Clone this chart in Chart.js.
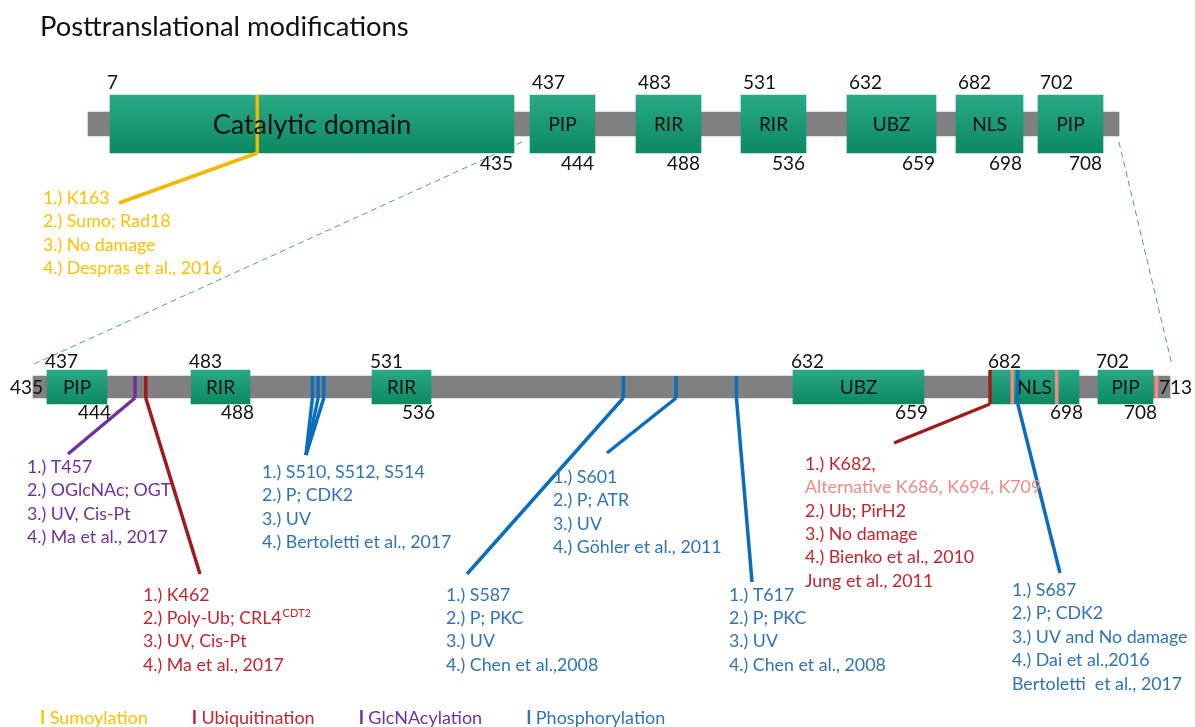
<!DOCTYPE html>
<html>
<head>
<meta charset="utf-8">
<script src="https://cdn.jsdelivr.net/npm/chart.js@4.4.1/dist/chart.umd.min.js"></script>
<style>
  html, body { margin: 0; background: #fff; }
  #wrap { position: relative; width: 1195px; height: 727px; }
</style>
</head>
<body>
<div id="wrap"><canvas id="ptm" width="1195" height="727"></canvas></div>
<script>
// ---- data ----
const titleText = 'Posttranslational modifications';
const rowLabels = ['full', 'zoom'];
const proteinRange = [1, 713];
const zoomRange = [435, 713];
const domainNames = ['Catalytic domain', 'PIP', 'RIR', 'RIR', 'UBZ', 'NLS', 'PIP'];
const domainStart = [7, 437, 483, 531, 632, 682, 702];
const domainEnd = [435, 444, 488, 536, 659, 698, 708];

const sumoSites = [163];
const ubSites = [462, 682];
const ubAltSites = [686, 694, 709];
const glcSites = [457];
const phosSites = [510, 512, 514, 587, 601, 617, 687];

const legendLabels = ['Sumoylation', 'Ubiquitination', 'GlcNAcylation', 'Phosphorylation'];

const k163Text = ['1.) K163', '2.) Sumo; Rad18', '3.) No damage', '4.) Despras et al., 2016'];
const t457Text = ['1.) T457', '2.) OGlcNAc; OGT', '3.) UV, Cis-Pt', '4.) Ma et al., 2017'];
const k462Text = ['1.) K462', '2.) Poly-Ub; CRL4^CDT2', '3.) UV, Cis-Pt', '4.) Ma et al., 2017'];
const s510Text = ['1.) S510, S512, S514', '2.) P; CDK2', '3.) UV', '4.) Bertoletti et al., 2017'];
const s587Text = ['1.) S587', '2.) P; PKC', '3.) UV', '4.) Chen et al.,2008'];
const s601Text = ['1.) S601', '2.) P; ATR', '3.) UV', '4.) Göhler et al., 2011'];
const t617Text = ['1.) T617', '2.) P; PKC', '3.) UV', '4.) Chen et al., 2008'];
const k682Text = ['1.) K682,', 'Alternative K686, K694, K709', '2.) Ub; PirH2', '3.) No damage', '4.) Bienko et al., 2010', 'Jung et al., 2011'];
const s687Text = ['1.) S687', '2.) P; CDK2', '3.) UV and No damage', '4.) Dai et al.,2016', 'Bertoletti  et al., 2017'];

// ---- colours ----
const C = {
  grey: '#808080',
  sumo: '#FFC000', sumoLine: '#F5B800',
  ub: '#C4262E', ubLine: '#9E1B1E',
  ubAlt: '#F28B85',
  glc: '#7030A0',
  phos: '#2F75B5', phosLine: '#0B6EBA',
  dash: '#4BA08A',
  ink: '#111'
};
const FONT = 'Lato';

// schematic axis: domain boundaries placed like in the drawing (units of canvas width)
const topAxisMap = [[1, 88], [7, 110], [435, 514], [437, 530], [444, 595], [483, 636], [488, 701],
  [531, 741], [536, 806], [632, 847], [659, 936], [682, 956], [698, 1023], [702, 1038], [708, 1103], [713, 1119]];
const bottomAxisMap = [[435, 33], [437, 47], [444, 107], [483, 191], [488, 250], [531, 372], [536, 431],
  [632, 793], [659, 924], [682, 990], [698, 1079], [702, 1098], [708, 1153], [713, 1170]];

class PiecewiseScale extends Chart.LinearScale {
  static id = 'piecewise';
  getPixelForValue(value) {
    const m = this.options.map;
    if (value === null || value === undefined || isNaN(value)) return NaN;
    let i = 1;
    while (i < m.length - 1 && value > m[i][0]) i++;
    const [v0, u0] = m[i - 1], [v1, u1] = m[i];
    const u = u0 + (value - v0) / (v1 - v0) * (u1 - u0);
    return this.left + u / this.options.span * this.width;
  }
  getValueForPixel(pixel) {
    const m = this.options.map;
    const u = (pixel - this.left) / this.width * this.options.span;
    let i = 1;
    while (i < m.length - 1 && u > m[i][1]) i++;
    const [v0, u0] = m[i - 1], [v1, u1] = m[i];
    return v0 + (u - u0) / (u1 - u0) * (v1 - v0);
  }
}
Chart.register(PiecewiseScale);

const rowThick = { full: { bar: 24, dom: 58 }, zoom: { bar: 22, dom: 34 } };

function inDomain(v) {
  return domainStart.some((s, i) => v >= s && v <= domainEnd[i]);
}
function siteRadius(row, v) {
  return (inDomain(v) ? rowThick[row].dom : rowThick[row].bar) / 2;
}

function domainFill(row) {
  const thickness = rowThick[row].dom;
  return c => {
    const chart = c.chart;
    const y = chart.scales && chart.scales.y;
    const mid = y ? y.getPixelForValue(rowLabels.indexOf(row)) : NaN;
    if (!isFinite(mid)) return '#139a72';
    const g = chart.ctx.createLinearGradient(0, mid - thickness / 2, 0, mid + thickness / 2);
    g.addColorStop(0, '#2aa987');
    g.addColorStop(1, '#0b8961');
    return g;
  };
}

function siteSet(row, axis, sites, color) {
  return {
    type: 'scatter',
    xAxisID: axis,
    data: sites.map(s => ({ x: s, y: row })),
    pointStyle: 'line',
    rotation: 90,
    radius: c => siteRadius(row, sites[c.dataIndex]),
    borderColor: color,
    borderWidth: 3.5,
    order: 0,
    clip: false
  };
}

// callouts: which sites they belong to, where the leader ends and where the text sits
const callouts = [
  { row: 'full', axis: 'x', sites: sumoSites, line: C.sumoLine, color: C.sumo, end: [119, 203], x: 43, y: 198, step: 23.5, lines: k163Text },
  { row: 'zoom', axis: 'x2', sites: glcSites, line: C.glc, color: C.glc, end: [68, 454], x: 27, y: 467, step: 23.5, lines: t457Text },
  { row: 'zoom', axis: 'x2', sites: [ubSites[0]], line: C.ubLine, color: C.ub, end: [200, 574], x: 143, y: 595, step: 23.3, lines: k462Text },
  { row: 'zoom', axis: 'x2', sites: phosSites.slice(0, 3), line: C.phosLine, color: C.phos, end: [306, 455], x: 262, y: 472, step: 23.5, lines: s510Text },
  { row: 'zoom', axis: 'x2', sites: [phosSites[3]], line: C.phosLine, color: C.phos, end: [467, 574], x: 446, y: 595, step: 23.3, lines: s587Text },
  { row: 'zoom', axis: 'x2', sites: [phosSites[4]], line: C.phosLine, color: C.phos, end: [607, 453], x: 553, y: 477, step: 23.5, lines: s601Text },
  { row: 'zoom', axis: 'x2', sites: [phosSites[5]], line: C.phosLine, color: C.phos, end: [752, 582], x: 729, y: 595, step: 23.3, lines: t617Text },
  { row: 'zoom', axis: 'x2', sites: [ubSites[1]], line: C.ubLine, color: C.ub, end: [894, 443], x: 805, y: 464, step: 23.4, lines: k682Text, alt: { 1: C.ubAlt } },
  { row: 'zoom', axis: 'x2', sites: [phosSites[6]], line: C.phosLine, color: C.phos, end: [1060, 573], x: 1012, y: 590, step: 23.5, lines: s687Text }
];

function textLines(ctx, o) {
  o.lines.forEach((line, i) => {
    const [main, sup] = line.split('^');
    const y = o.y + i * o.step;
    ctx.fillStyle = (o.alt && o.alt[i]) || o.color;
    ctx.font = `17.8px ${FONT}`;
    ctx.fillText(main, o.x, y);
    if (sup) {
      const w = ctx.measureText(main).width;
      ctx.font = `11px ${FONT}`;
      ctx.fillText(sup, o.x + w + 1, y - 5);
    }
  });
}

const ptmAnnotations = {
  id: 'ptmAnnotations',
  beforeDatasetsDraw(chart) {
    const { ctx, scales } = chart;
    const yTop = scales.y.getPixelForValue(0), yBot = scales.y.getPixelForValue(1);
    // zoom guide lines
    ctx.save();
    ctx.strokeStyle = C.dash;
    ctx.lineWidth = 1;
    ctx.setLineDash([6, 4]);
    ctx.beginPath();
    ctx.moveTo(scales.x.getPixelForValue(zoomRange[0] + 1), yTop + 18);
    ctx.lineTo(scales.x2.getPixelForValue(zoomRange[0]) - 1, yBot - 22);
    ctx.moveTo(scales.x.getPixelForValue(zoomRange[1]), yTop + 18);
    ctx.lineTo(scales.x2.getPixelForValue(zoomRange[1]) + 2, yBot - 22);
    ctx.stroke();
    ctx.restore();
  },
  afterDatasetsDraw(chart) {
    const { ctx, scales } = chart;
    const rowY = { full: scales.y.getPixelForValue(0), zoom: scales.y.getPixelForValue(1) };
    ctx.save();
    ctx.lineCap = 'butt';
    ctx.lineWidth = 3.5;
    callouts.forEach(o => {
      ctx.strokeStyle = o.line;
      o.sites.forEach(s => {
        const px = scales[o.axis].getPixelForValue(s);
        ctx.beginPath();
        ctx.moveTo(px, rowY[o.row] + siteRadius(o.row, s));
        ctx.lineTo(o.end[0], o.end[1]);
        ctx.stroke();
      });
    });

    // domain names and residue numbers
    ctx.textBaseline = 'middle';
    ctx.fillStyle = C.ink;
    const rows = [
      { row: 'full', axis: scales.x, idx: domainNames.map((_, i) => i) },
      { row: 'zoom', axis: scales.x2, idx: domainNames.map((_, i) => i).slice(1) }
    ];
    rows.forEach(r => {
      const y = rowY[r.row], h = rowThick[r.row].dom / 2;
      r.idx.forEach(i => {
        const a = r.axis.getPixelForValue(domainStart[i]);
        const b = r.axis.getPixelForValue(domainEnd[i]);
        ctx.textAlign = 'center';
        ctx.font = i === 0 ? `27px ${FONT}` : `19px ${FONT}`;
        ctx.fillText(domainNames[i], (a + b) / 2, y + 1);
        ctx.font = `19px ${FONT}`;
        ctx.textAlign = 'left';
        if (r.row === 'full') {
          ctx.fillText(String(domainStart[i]), a + (i === 0 ? -3 : 2), y - h - 12);
          ctx.textAlign = 'right';
          ctx.fillText(String(domainEnd[i]), b - 1, y + h + 11);
        } else {
          ctx.fillText(String(domainStart[i]), a - 2, y - h - 8);
          ctx.textAlign = 'right';
          ctx.fillText(String(domainEnd[i]), b + 4, y + h + 9);
        }
      });
    });
    ctx.font = `19px ${FONT}`;
    ctx.textAlign = 'right';
    ctx.fillText(String(zoomRange[0]), scales.x2.getPixelForValue(zoomRange[0]) + 10, rowY.zoom + 1);
    ctx.textAlign = 'left';
    ctx.fillText(String(zoomRange[1]), scales.x2.getPixelForValue(zoomRange[1]) - 11, rowY.zoom + 1);
    ctx.restore();
  },
  afterDraw(chart) {
    const { ctx } = chart;
    ctx.save();
    ctx.textBaseline = 'middle';
    ctx.textAlign = 'left';
    ctx.fillStyle = C.ink;
    ctx.font = `27.4px ${FONT}`;
    ctx.fillText(titleText, 40, 27);
    callouts.forEach(o => textLines(ctx, o));

    // legend
    const legendColors = [C.sumo, C.ub, C.glc, C.phos];
    let lx = 40;
    legendLabels.forEach((label, i) => {
      ctx.fillStyle = legendColors[i];
      ctx.font = `bold 18px ${FONT}`;
      ctx.fillText('I', lx, 718);
      const wi = ctx.measureText('I ').width;
      ctx.font = `18px ${FONT}`;
      ctx.fillText(label, lx + wi, 718);
      lx += wi + ctx.measureText(label).width + 44;
    });
    ctx.restore();
  }
};

const barBase = { type: 'bar', grouped: false, borderWidth: 0, clip: false };

new Chart(document.getElementById('ptm'), {
  type: 'bar',
  data: {
    datasets: [
      siteSet('full', 'x', sumoSites, C.sumoLine),
      siteSet('zoom', 'x2', ubSites, C.ubLine),
      siteSet('zoom', 'x2', ubAltSites, C.ubAlt),
      siteSet('zoom', 'x2', glcSites, C.glc),
      siteSet('zoom', 'x2', phosSites, C.phosLine),
      Object.assign({}, barBase, {
        label: 'domains full', xAxisID: 'x', order: 1, barThickness: rowThick.full.dom,
        data: domainStart.map((s, i) => ({ y: 'full', x: [s, domainEnd[i]] })),
        backgroundColor: domainFill('full')
      }),
      Object.assign({}, barBase, {
        label: 'domains zoom', xAxisID: 'x2', order: 1, barThickness: rowThick.zoom.dom,
        data: domainStart.slice(1).map((s, i) => ({ y: 'zoom', x: [s, domainEnd[i + 1]] })),
        backgroundColor: domainFill('zoom')
      }),
      Object.assign({}, barBase, {
        label: 'backbone full', xAxisID: 'x', order: 2, barThickness: rowThick.full.bar,
        data: [{ y: 'full', x: proteinRange }], backgroundColor: C.grey
      }),
      Object.assign({}, barBase, {
        label: 'backbone zoom', xAxisID: 'x2', order: 2, barThickness: rowThick.zoom.bar,
        data: [{ y: 'zoom', x: zoomRange }], backgroundColor: C.grey
      })
    ]
  },
  options: {
    indexAxis: 'y',
    responsive: false,
    animation: false,
    devicePixelRatio: 1,
    events: [],
    layout: { autoPadding: false, padding: { top: 124, bottom: 340, left: 0, right: 0 } },
    scales: {
      x: { type: 'piecewise', map: topAxisMap, span: 1195, min: 1, max: 713, display: false },
      x2: { type: 'piecewise', map: bottomAxisMap, span: 1195, min: 1, max: 713, display: false },
      y: { type: 'category', labels: rowLabels, offset: false, display: false }
    },
    plugins: { legend: { display: false }, tooltip: { enabled: false }, title: { display: false } }
  },
  plugins: [ptmAnnotations]
});
</script>
</body>
</html>
